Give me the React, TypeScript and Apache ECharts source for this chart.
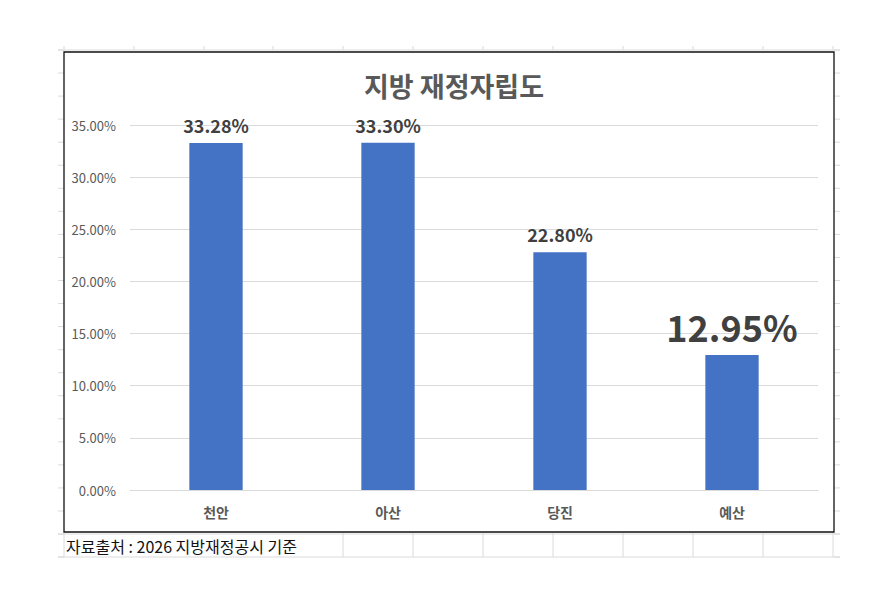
import React, { useEffect, useRef } from "react";
import * as echarts from "echarts";

const categories = ["천안", "아산", "당진", "예산"];
const values = [33.28, 33.3, 22.8, 12.95];
const highlightIndex = 3;
const yTicks = { min: 0, max: 35, interval: 5 };
const titleText = "지방 재정자립도";
const sourceText = "자료출처 : 2026 지방재정공시 기준";

const FONT = "'Noto Sans CJK KR', 'Noto Sans', sans-serif";
const GRIDC = "#dadada";

function sheetGraphics() {
  const els: any[] = [];
  const cols = [64, 134, 204, 273, 343, 413, 483, 553, 623, 693, 763, 833];
  const rows: number[] = [];
  for (let k = 0; k <= 22; k++) rows.push(50 + 23.05 * k);
  const ln = (x1: number, y1: number, x2: number, y2: number) => ({
    type: "line",
    silent: true,
    shape: { x1, y1, x2, y2 },
    style: { stroke: GRIDC, lineWidth: 1 },
  });
  els.push(ln(58, 50, 840, 50));
  cols.forEach((c) => els.push(ln(c, 46, c, 50)));
  rows.forEach((r) => {
    els.push(ln(58, r, 64, r));
    els.push(ln(834, r, 840, r));
  });
  els.push(ln(58, 534, 840, 534));
  els.push(ln(58, 557, 840, 557));
  cols.forEach((c) => {
    if (c === 134 || c === 204 || c === 273) return;
    els.push(ln(c, 532, c, 557));
  });
  els.push({
    type: "rect",
    silent: true,
    shape: { x: 64, y: 52, width: 770, height: 480 },
    style: { fill: "none", stroke: "#111", lineWidth: 1.3 },
  });
  els.push({
    type: "text",
    silent: true,
    x: 66,
    y: 546,
    style: {
      text: sourceText,
      font: `16px ${FONT}`,
      fill: "#111",
      textVerticalAlign: "middle",
      textAlign: "left",
    },
  });
  return els;
}

export default function App() {
  const ref = useRef<HTMLDivElement>(null);
  useEffect(() => {
    document.body.style.margin = "0";
    const chart = echarts.init(ref.current!, undefined, { renderer: "svg" });
    chart.setOption({
      animation: false,
      backgroundColor: "#fff",
      title: {
        text: titleText,
        left: 449,
        textAlign: "center",
        top: 67,
        textStyle: { fontFamily: FONT, fontSize: 27, fontWeight: "bold", color: "#595959" },
      },
      grid: { left: 130, right: 60, top: 125, bottom: 103, containLabel: false },
      xAxis: {
        type: "category",
        data: categories,
        axisLine: { show: true, lineStyle: { color: GRIDC } },
        axisTick: { show: false },
        axisLabel: { fontFamily: FONT, fontSize: 14, fontWeight: "bold", color: "#595959", margin: 15 },
      },
      yAxis: {
        type: "value",
        min: yTicks.min,
        max: yTicks.max,
        interval: yTicks.interval,
        axisLine: { show: false },
        axisTick: { show: false },
        splitLine: { lineStyle: { color: GRIDC } },
        axisLabel: {
          fontFamily: FONT,
          fontSize: 13,
          color: "#595959",
          margin: 14,
          formatter: (v: number) => v.toFixed(2) + "%",
        },
      },
      series: [
        {
          type: "bar",
          barWidth: "31%",
          itemStyle: { color: "#4472C4" },
          data: values.map((v, i) => ({
            value: v,
            label:
              i === highlightIndex
                ? { fontSize: 36, distance: 11 }
                : { fontSize: 18, distance: 9 },
          })),
          label: {
            show: true,
            position: "top",
            fontFamily: FONT,
            fontWeight: "bold",
            color: "#404040",
            formatter: (p: any) => Number(p.value).toFixed(2) + "%",
          },
        },
      ],
      graphic: sheetGraphics(),
    });
    return () => chart.dispose();
  }, []);
  return <div ref={ref} style={{ width: 878, height: 593, position: "absolute", left: 0, top: 0 }} />;
}
